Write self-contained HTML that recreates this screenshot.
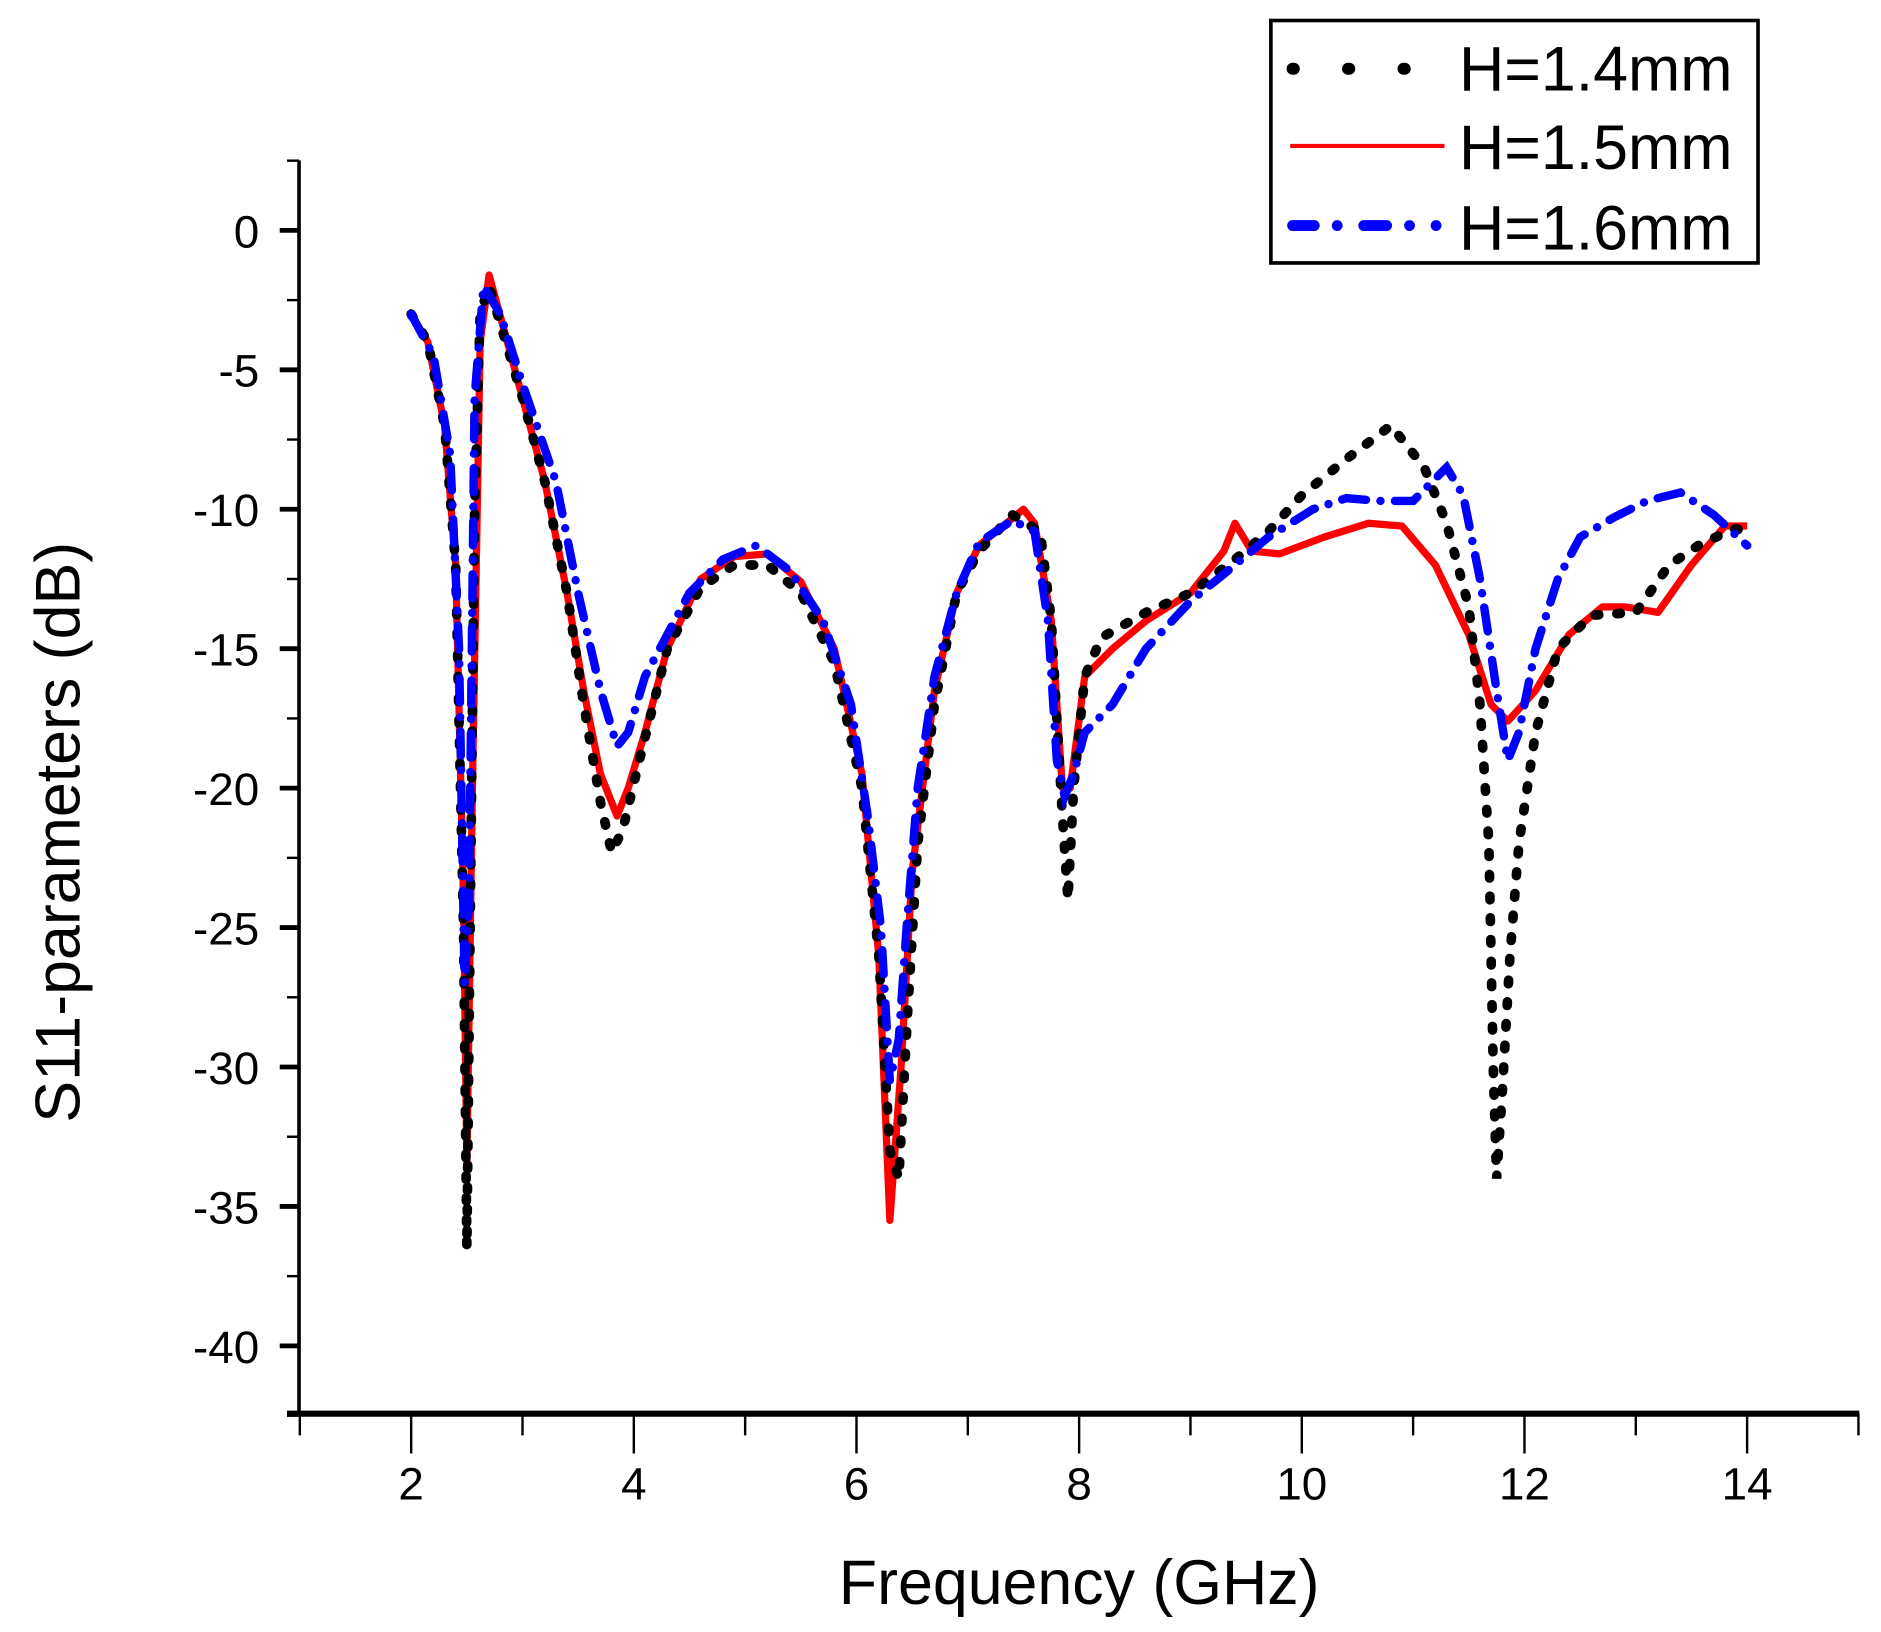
<!DOCTYPE html>
<html><head><meta charset="utf-8"><style>
html,body{margin:0;padding:0;background:#fff;}
svg{display:block;}
text{font-family:"Liberation Sans",Arial,sans-serif;fill:#000;}
</style></head><body>
<svg id="c" width="1881" height="1632" viewBox="0 0 1560 1353" preserveAspectRatio="none" xmlns="http://www.w3.org/2000/svg">
<g id="axes" stroke="#000" fill="none"></g>
<g id="series" fill="none"></g>
<g id="labels"></g>
<rect x="1054" y="17" width="404" height="201" fill="none" stroke="#000" stroke-width="3"/>
<line x1="1072" y1="57" x2="1165" y2="57" stroke="#000" stroke-width="10" stroke-linecap="round" stroke-dasharray="1 45"/>
<line x1="1070" y1="121" x2="1198" y2="121" stroke="#f00" stroke-width="3.5"/>
<line x1="1072" y1="187" x2="1196" y2="187" stroke="#00f" stroke-width="9" stroke-linecap="round" stroke-dasharray="18 19 0 22 19 19 0 22 0 100"/>
<text x="1210" y="75" font-size="52">H=1.4mm</text>
<text x="1210" y="140" font-size="52">H=1.5mm</text>
<text x="1210" y="207" font-size="52">H=1.6mm</text>
<text x="895" y="1330" font-size="52" text-anchor="middle">Frequency (GHz)</text>
<text transform="translate(66,690) rotate(-90)" font-size="52" text-anchor="middle">S11-parameters (dB)</text>
</svg>
<script>
var NS="http://www.w3.org/2000/svg";
function X(f){return 341+(f-2)*92.33;}
function Y(d){return 191-d*23.12;}
function el(p,t,a,txt){var e=document.createElementNS(NS,t);for(var k in a)e.setAttribute(k,a[k]);if(txt!==undefined)e.textContent=txt;p.appendChild(e);return e;}
var ax=document.getElementById('axes'),lb=document.getElementById('labels'),se=document.getElementById('series');
el(ax,'line',{x1:248,y1:133,x2:248,y2:1174,'stroke-width':3});
el(ax,'line',{x1:238,y1:1172,x2:1542,y2:1172,'stroke-width':5});
for(var d=2.5;d>=-42.5;d-=2.5){var y=Y(d);var maj=Math.abs(d%5)<0.01;
 el(ax,'line',{x1:maj?232:238,y1:y,x2:248,y2:y,'stroke-width':maj?4:2});
 if(maj&&d>=-40)el(lb,'text',{x:215,y:y+14,'font-size':38,'text-anchor':'end'},String(d));}
for(var f=1;f<=15;f++){var x=X(f);var maj=f%2==0;
 el(ax,'line',{x1:x,y1:1172,x2:x,y2:maj?1205:1190,'stroke-width':2});
 if(maj)el(lb,'text',{x:x,y:1243,'font-size':38,'text-anchor':'middle'},String(f));}
function path(pts){return pts.map(function(p,i){return (i?'L':'M')+X(p[0]).toFixed(1)+' '+Y(p[1]).toFixed(1);}).join(' ');}
var black=[[2,-3],[2.15,-4],[2.3,-7],[2.4,-12],[2.47,-25],[2.5,-36.5],[2.53,-25],[2.57,-10],[2.62,-3],[2.7,-2],[2.85,-4],[3,-6],[3.2,-9],[3.4,-13],[3.55,-17],[3.7,-20.5],[3.8,-22.3],[3.9,-21.5],[4.05,-19],[4.3,-15],[4.6,-12.8],[4.9,-12],[5.2,-12],[5.5,-13],[5.8,-15.5],[6.05,-20],[6.2,-26],[6.3,-33],[6.38,-34],[6.46,-28],[6.55,-22],[6.7,-17],[6.9,-13],[7.1,-11.5],[7.4,-10.2],[7.65,-10.8],[7.75,-14],[7.85,-21],[7.9,-24],[7.95,-20],[8.05,-16],[8.2,-14.6],[8.6,-13.7],[9,-13],[9.4,-11.8],[9.7,-10.8],[10,-9.5],[10.4,-8.2],[10.8,-7],[11.1,-8.5],[11.3,-10.5],[11.5,-13.5],[11.6,-17],[11.68,-22],[11.72,-30],[11.75,-34],[11.8,-31],[11.87,-26],[11.95,-22],[12.1,-18],[12.3,-15],[12.6,-13.8],[13,-13.7],[13.3,-12],[13.6,-11.2],[13.9,-10.7],[14,-10.8]];
var red=[[2,-3],[2.15,-4],[2.3,-7],[2.4,-12],[2.47,-24],[2.5,-33.5],[2.55,-20],[2.62,-4],[2.7,-1.6],[2.85,-3.8],[3,-6],[3.2,-9],[3.4,-13],[3.55,-16.5],[3.7,-19.5],[3.85,-21],[3.95,-20],[4.1,-18],[4.3,-15],[4.6,-12.5],[4.9,-11.7],[5.2,-11.6],[5.5,-12.6],[5.8,-15],[6.05,-19.5],[6.2,-26],[6.3,-35.5],[6.4,-30],[6.5,-23],[6.7,-16.5],[6.9,-13],[7.1,-11.3],[7.5,-10],[7.6,-10.5],[7.75,-14],[7.85,-20],[7.92,-20],[8.05,-16],[8.3,-15],[8.6,-14],[9,-13],[9.3,-11.5],[9.4,-10.5],[9.55,-11.5],[9.8,-11.6],[10.2,-11],[10.6,-10.5],[10.9,-10.6],[11.2,-12],[11.5,-14.5],[11.7,-17],[11.85,-17.6],[12.1,-16.5],[12.4,-14.5],[12.7,-13.5],[12.9,-13.5],[13.2,-13.7],[13.5,-12],[13.8,-10.6],[14,-10.6]];
var blue=[[2,-3],[2.2,-4.5],[2.35,-8],[2.43,-15],[2.48,-27],[2.52,-24],[2.57,-6],[2.65,-2],[2.8,-3],[3,-5.5],[3.3,-9],[3.5,-13],[3.7,-16.5],[3.85,-18.5],[3.95,-18],[4.1,-16],[4.5,-13],[4.8,-11.8],[5.1,-11.3],[5.4,-12.2],[5.7,-14],[5.95,-17],[6.1,-21],[6.22,-25],[6.3,-30.5],[6.38,-29],[6.45,-25],[6.55,-20],[6.7,-16],[6.9,-13],[7.1,-11.2],[7.4,-10.4],[7.6,-10.8],[7.72,-14],[7.8,-19],[7.87,-20.3],[7.95,-19.5],[8.05,-18],[8.3,-17],[8.6,-15],[9,-13.3],[9.4,-12],[9.7,-11],[10.1,-10],[10.4,-9.6],[10.7,-9.7],[11,-9.7],[11.3,-8.5],[11.45,-9.5],[11.6,-12.5],[11.75,-16.5],[11.85,-19],[11.95,-18],[12.1,-15],[12.3,-12.5],[12.5,-11],[12.8,-10.3],[13.1,-9.7],[13.4,-9.4],[13.7,-10.2],[14,-11.3]];
el(se,'path',{d:path(red),stroke:'#f00','stroke-width':6,'stroke-linejoin':'round'});
el(se,'path',{d:path(black),stroke:'#000','stroke-width':8,'stroke-linecap':'round','stroke-dasharray':'3 15'});
el(se,'path',{d:path(blue),stroke:'#00f','stroke-width':7,'stroke-linecap':'round','stroke-dasharray':'20 12 0 12'});
</script>
</body></html>
